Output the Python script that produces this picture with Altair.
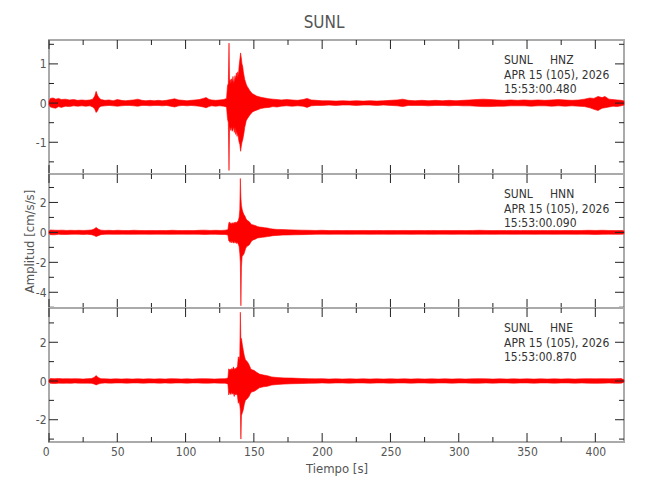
import altair as alt
import pandas as pd

FONT = "DejaVu Sans Condensed, Liberation Sans Narrow, DejaVu Sans, sans-serif"
RED = "#ff0000"
FRAME = "#aaaaaa"
TICK = "#222222"
LABEL = "#555555"

STATION = "SUNL"
CHANNELS = ["HNZ", "HNN", "HNE"]
DATE_LINE = "APR 15 (105), 2026"
START_TIMES = ["15:53:00.480", "15:53:00.090", "15:53:00.870"]
Y_TITLE = "Amplitud [cm/s/s]"
X_TITLE = "Tiempo [s]"

TIME_DOMAIN = [0, 421]
X_MAJOR = [0, 50, 100, 150, 200, 250, 300, 350, 400]
X_MINOR = [25, 75, 125, 175, 225, 275, 325, 375]

Y_DOMAINS = [[-1.81, 1.61], [-5.05, 3.9], [-3.15, 3.77]]
Y_MAJOR = [[-1, 0, 1], [-4, -2, 0, 2], [-2, 0, 2]]
Y_MINOR = [[-1.5, -0.5, 0.5, 1.5], [-5, -3, -1, 1, 3], [-3, -1, 1, 3]]

# envelope of each trace: (time s, upper, lower)
HNZ = [
    (0, 0.05, -0.05), (1, 0.12, -0.10), (3, 0.13, -0.12), (5, 0.10, -0.13), (7, 0.12, -0.09),
    (9, 0.09, -0.11), (12, 0.10, -0.08), (15, 0.08, -0.09), (18, 0.09, -0.07), (21, 0.07, -0.08),
    (24, 0.08, -0.07), (27, 0.07, -0.08), (30, 0.08, -0.07), (32, 0.10, -0.10), (33.5, 0.18, -0.15),
    (34.5, 0.30, -0.24), (35.5, 0.20, -0.20), (36.5, 0.14, -0.12), (38, 0.09, -0.08), (41, 0.07, -0.07),
    (44, 0.08, -0.06), (47, 0.06, -0.07), (50, 0.09, -0.08), (53, 0.07, -0.07), (56, 0.06, -0.06),
    (59, 0.07, -0.06), (62, 0.08, -0.07), (65, 0.10, -0.08), (68, 0.07, -0.06), (71, 0.06, -0.06),
    (74, 0.07, -0.07), (77, 0.06, -0.06), (80, 0.07, -0.06), (83, 0.06, -0.07), (86, 0.07, -0.06),
    (89, 0.09, -0.08), (92, 0.11, -0.10), (95, 0.08, -0.07), (98, 0.07, -0.06), (101, 0.06, -0.07),
    (104, 0.07, -0.06), (107, 0.08, -0.07), (110, 0.09, -0.08), (113, 0.12, -0.10), (115, 0.14, -0.12),
    (117, 0.10, -0.09), (119, 0.08, -0.07), (122, 0.07, -0.08), (125, 0.08, -0.07), (128, 0.09, -0.08),
    (130, 0.12, -0.10), (130.7, 0.45, -0.40), (131.3, 0.50, -0.50), (131.8, 1.53, -1.72), (132.2, 0.55, -0.60),
    (132.7, 0.60, -0.65), (133.2, 0.50, -0.70), (133.7, 0.62, -0.60), (134.2, 0.55, -0.72), (134.7, 0.68, -0.68),
    (135.2, 0.50, -0.60), (135.7, 0.58, -0.75), (136.2, 0.70, -0.62), (136.7, 0.60, -0.80), (137.2, 0.77, -0.70),
    (137.7, 0.65, -0.85), (138.2, 0.80, -0.75), (138.7, 0.70, -0.90), (139.2, 0.95, -1.00), (139.7, 1.10, -1.05),
    (140.3, 1.28, -1.23), (140.8, 1.15, -1.10), (141.3, 1.00, -1.00), (141.8, 0.94, -0.94), (142.3, 0.80, -0.85),
    (142.8, 0.70, -0.75), (143.3, 0.60, -0.62), (143.8, 0.55, -0.55), (144.4, 0.48, -0.45), (145.2, 0.42, -0.40),
    (146.0, 0.38, -0.36), (146.8, 0.33, -0.32), (147.8, 0.28, -0.27), (149, 0.24, -0.23), (150.5, 0.21, -0.20),
    (152, 0.18, -0.18), (155, 0.15, -0.14), (158, 0.13, -0.12), (161, 0.11, -0.11), (164, 0.10, -0.09),
    (167, 0.09, -0.10), (170, 0.08, -0.08), (174, 0.09, -0.07), (178, 0.08, -0.08), (182, 0.07, -0.07),
    (186, 0.09, -0.08), (189, 0.12, -0.11), (192, 0.08, -0.07), (196, 0.07, -0.06), (200, 0.06, -0.06),
    (205, 0.06, -0.05), (210, 0.05, -0.06), (215, 0.06, -0.05), (220, 0.05, -0.05), (225, 0.06, -0.06),
    (230, 0.05, -0.05), (235, 0.06, -0.05), (240, 0.05, -0.06), (245, 0.06, -0.05), (250, 0.07, -0.06),
    (255, 0.08, -0.07), (259, 0.10, -0.09), (263, 0.07, -0.06), (268, 0.06, -0.06), (273, 0.07, -0.06),
    (278, 0.06, -0.07), (283, 0.07, -0.06), (288, 0.06, -0.06), (293, 0.07, -0.07), (298, 0.06, -0.06),
    (303, 0.07, -0.07), (308, 0.08, -0.07), (313, 0.09, -0.08), (318, 0.10, -0.09), (323, 0.09, -0.09),
    (328, 0.08, -0.08), (333, 0.07, -0.08), (338, 0.08, -0.07), (343, 0.07, -0.07), (348, 0.08, -0.07),
    (353, 0.07, -0.08), (358, 0.08, -0.07), (363, 0.07, -0.07), (368, 0.08, -0.08), (373, 0.09, -0.07),
    (378, 0.08, -0.08), (383, 0.07, -0.07), (388, 0.08, -0.08), (392, 0.10, -0.09), (396, 0.13, -0.12),
    (399, 0.12, -0.16), (402, 0.17, -0.19), (405, 0.14, -0.13), (407, 0.17, -0.12), (410, 0.10, -0.10),
    (413, 0.09, -0.08), (416, 0.08, -0.09), (419, 0.07, -0.07), (421, 0.05, -0.05),
]

HNN = [
    (0, 0.08, -0.08), (1, 0.16, -0.15), (4, 0.15, -0.16), (7, 0.14, -0.13), (10, 0.15, -0.14),
    (13, 0.13, -0.14), (16, 0.14, -0.13), (19, 0.13, -0.12), (22, 0.14, -0.13), (25, 0.13, -0.14),
    (28, 0.14, -0.13), (31, 0.16, -0.15), (33, 0.22, -0.20), (34.5, 0.33, -0.28), (36, 0.22, -0.22),
    (38, 0.15, -0.15), (41, 0.13, -0.13), (44, 0.14, -0.12), (47, 0.12, -0.13), (50, 0.14, -0.13),
    (54, 0.13, -0.12), (58, 0.12, -0.13), (62, 0.14, -0.13), (66, 0.13, -0.12), (70, 0.12, -0.12),
    (74, 0.13, -0.13), (78, 0.12, -0.12), (82, 0.13, -0.12), (86, 0.12, -0.13), (90, 0.14, -0.13),
    (94, 0.13, -0.12), (98, 0.12, -0.12), (102, 0.13, -0.13), (106, 0.12, -0.12), (110, 0.14, -0.13),
    (114, 0.15, -0.14), (118, 0.13, -0.13), (122, 0.14, -0.13), (126, 0.13, -0.14), (129, 0.15, -0.14),
    (131, 0.18, -0.18), (131.6, 0.60, -0.55), (132.1, 0.70, -0.60), (132.6, 0.55, -0.68), (133.2, 0.65, -0.55),
    (133.8, 0.55, -0.70), (134.4, 0.65, -0.60), (135.0, 0.58, -0.72), (135.6, 0.68, -0.60), (136.2, 0.60, -0.72),
    (136.8, 0.70, -0.62), (137.4, 0.62, -0.75), (138.0, 0.72, -0.68), (138.6, 0.80, -0.80), (139.2, 1.00, -0.95),
    (139.7, 1.50, -1.40), (140.1, 3.60, -2.00), (140.5, 2.30, -4.90), (140.9, 1.80, -2.30), (141.4, 1.55, -1.60),
    (142.0, 1.35, -1.55), (142.7, 1.20, -1.45), (143.4, 1.10, -1.25), (144.1, 0.95, -1.05), (144.8, 0.82, -0.95),
    (145.6, 0.78, -0.90), (146.5, 0.72, -0.85), (147.4, 0.62, -0.72), (148.3, 0.52, -0.58), (149.5, 0.50, -0.50),
    (151, 0.46, -0.45), (152.5, 0.40, -0.38), (154, 0.36, -0.35), (156, 0.34, -0.33), (158, 0.31, -0.31),
    (160, 0.29, -0.28), (162, 0.25, -0.25), (164, 0.22, -0.22), (167, 0.20, -0.20), (171, 0.19, -0.18),
    (175, 0.17, -0.17), (180, 0.16, -0.16), (185, 0.15, -0.15), (190, 0.14, -0.14), (195, 0.13, -0.13),
    (200, 0.14, -0.12), (205, 0.12, -0.13), (210, 0.13, -0.12), (215, 0.12, -0.12), (220, 0.13, -0.13),
    (225, 0.12, -0.12), (230, 0.13, -0.12), (235, 0.12, -0.13), (240, 0.13, -0.12), (245, 0.12, -0.12),
    (250, 0.13, -0.13), (255, 0.12, -0.12), (260, 0.13, -0.12), (265, 0.12, -0.13), (270, 0.13, -0.12),
    (275, 0.12, -0.12), (280, 0.13, -0.13), (285, 0.12, -0.12), (290, 0.13, -0.12), (295, 0.12, -0.13),
    (300, 0.13, -0.12), (305, 0.12, -0.12), (310, 0.13, -0.13), (315, 0.14, -0.13), (320, 0.13, -0.12),
    (325, 0.12, -0.13), (330, 0.13, -0.12), (335, 0.12, -0.12), (340, 0.13, -0.13), (345, 0.12, -0.12),
    (350, 0.13, -0.12), (355, 0.12, -0.13), (360, 0.13, -0.12), (365, 0.12, -0.12), (370, 0.13, -0.13),
    (375, 0.12, -0.12), (380, 0.13, -0.12), (385, 0.12, -0.13), (390, 0.13, -0.12), (395, 0.14, -0.13),
    (400, 0.13, -0.14), (405, 0.14, -0.13), (410, 0.13, -0.12), (415, 0.12, -0.13), (420, 0.13, -0.12),
    (421, 0.08, -0.08),
]

HNE = [
    (0, 0.06, -0.06), (1, 0.13, -0.12), (4, 0.12, -0.13), (7, 0.13, -0.11), (10, 0.11, -0.12),
    (13, 0.12, -0.11), (16, 0.11, -0.12), (19, 0.12, -0.10), (22, 0.11, -0.11), (25, 0.10, -0.11),
    (28, 0.12, -0.11), (31, 0.13, -0.12), (33, 0.18, -0.15), (34.5, 0.28, -0.20), (36, 0.18, -0.16),
    (38, 0.12, -0.12), (41, 0.11, -0.10), (45, 0.10, -0.11), (49, 0.11, -0.10), (53, 0.10, -0.10),
    (57, 0.11, -0.11), (61, 0.10, -0.10), (65, 0.11, -0.10), (69, 0.10, -0.11), (73, 0.11, -0.10),
    (77, 0.10, -0.10), (81, 0.11, -0.11), (85, 0.10, -0.10), (89, 0.12, -0.11), (93, 0.11, -0.10),
    (97, 0.10, -0.10), (101, 0.11, -0.11), (105, 0.10, -0.10), (109, 0.11, -0.10), (113, 0.12, -0.11),
    (117, 0.11, -0.11), (121, 0.10, -0.10), (125, 0.11, -0.11), (129, 0.12, -0.11), (131, 0.15, -0.15),
    (131.6, 0.63, -0.72), (132.1, 0.55, -0.60), (132.6, 0.62, -0.65), (133.2, 0.55, -0.70), (133.8, 0.65, -0.58),
    (134.4, 0.58, -0.68), (135.0, 0.73, -0.62), (135.6, 0.60, -0.80), (136.2, 0.66, -0.64), (136.8, 0.62, -0.72),
    (137.4, 0.70, -0.66), (138.0, 0.75, -0.78), (138.6, 1.25, -1.15), (139.2, 1.10, -1.05), (139.7, 1.30, -1.25),
    (140.1, 3.55, -1.50), (140.5, 2.00, -3.00), (140.9, 2.20, -1.80), (141.5, 1.90, -1.65), (142.2, 1.60, -1.50),
    (143.0, 1.30, -1.20), (143.8, 1.10, -1.00), (144.6, 1.05, -0.95), (145.6, 0.95, -0.88), (146.6, 0.82, -0.78),
    (147.6, 0.65, -0.62), (148.6, 0.58, -0.56), (150, 0.55, -0.54), (152, 0.45, -0.45), (154, 0.36, -0.35),
    (157, 0.31, -0.30), (160, 0.27, -0.27), (163, 0.21, -0.21), (167, 0.18, -0.18), (172, 0.16, -0.16),
    (178, 0.15, -0.14), (185, 0.13, -0.13), (190, 0.12, -0.12), (195, 0.11, -0.11), (200, 0.12, -0.10),
    (205, 0.10, -0.11), (210, 0.11, -0.10), (215, 0.10, -0.10), (220, 0.11, -0.11), (225, 0.10, -0.10),
    (230, 0.11, -0.10), (235, 0.10, -0.11), (240, 0.11, -0.10), (245, 0.10, -0.10), (250, 0.11, -0.11),
    (255, 0.10, -0.10), (260, 0.11, -0.10), (265, 0.10, -0.11), (270, 0.11, -0.10), (275, 0.10, -0.10),
    (280, 0.11, -0.11), (285, 0.10, -0.10), (290, 0.11, -0.10), (295, 0.10, -0.11), (300, 0.11, -0.10),
    (305, 0.10, -0.10), (310, 0.11, -0.11), (315, 0.12, -0.11), (320, 0.11, -0.10), (325, 0.10, -0.11),
    (330, 0.11, -0.10), (335, 0.10, -0.10), (340, 0.11, -0.11), (345, 0.10, -0.10), (350, 0.11, -0.10),
    (355, 0.10, -0.11), (360, 0.11, -0.10), (365, 0.10, -0.10), (370, 0.11, -0.11), (375, 0.10, -0.10),
    (380, 0.11, -0.10), (385, 0.10, -0.11), (390, 0.11, -0.10), (395, 0.12, -0.11), (400, 0.11, -0.12),
    (405, 0.12, -0.11), (410, 0.11, -0.10), (415, 0.12, -0.12), (419, 0.13, -0.11), (421, 0.06, -0.06),
]

TRACES = [HNZ, HNN, HNE]

W, H = 575, 134
MAJ, MIN = 9, 5


def panel(i):
    df = pd.DataFrame(TRACES[i], columns=["t", "hi", "lo"])
    xs = alt.Scale(domain=TIME_DOMAIN, nice=False, zero=False)
    ys = alt.Scale(domain=Y_DOMAINS[i], nice=False, zero=False)

    if i == 2:
        xaxis = alt.Axis(values=X_MAJOR, ticks=False, domain=False, grid=False, labelPadding=4,
                         labelAlign=alt.expr("datum.value == 0 ? 'right' : 'center'"),
                         labelFont=FONT, labelFontSize=12, labelColor=LABEL,
                         title=X_TITLE, titleFont=FONT, titleFontSize=13, titleColor=LABEL,
                         titleFontWeight="normal", titlePadding=5)
    else:
        xaxis = None

    ykw = dict(values=Y_MAJOR[i], ticks=False, domain=False, grid=False, labelPadding=3,
               labelFont=FONT, labelFontSize=12, labelColor=LABEL,
               labelExpr="replace(datum.label, '\u2212', '-')")
    if i == 1:
        ykw.update(title=Y_TITLE, titleFont=FONT, titleFontSize=13, titleColor=LABEL,
                   titleFontWeight="normal", titleAngle=270, titleX=-20, titleY=H / 2,
                   titleAlign="center", titleBaseline="middle")
    else:
        ykw.update(title="")
    yaxis = alt.Axis(**ykw)

    X = lambda f: alt.X(f, scale=xs, axis=xaxis)
    Y = lambda f: alt.Y(f, scale=ys, axis=yaxis)

    wave = alt.Chart(df).mark_area(color=RED, stroke=RED, strokeWidth=0.6).encode(
        x=X("t:Q"), y=Y("hi:Q"), y2="lo:Q",
    )

    layers = [wave]
    for vals, ln in ((Y_MAJOR[i], MAJ), (Y_MINOR[i], MIN)):
        base = alt.Chart(pd.DataFrame({"v": vals})).mark_rule(color=TICK, strokeWidth=1)
        layers.append(base.encode(y=Y("v:Q"), x=alt.value(0), x2=alt.value(ln)))
        layers.append(base.encode(y=Y("v:Q"), x=alt.value(W - ln), x2=alt.value(W)))
    for vals, ln in ((X_MAJOR, MAJ), (X_MINOR, MIN)):
        base = alt.Chart(pd.DataFrame({"v": vals})).mark_rule(color=TICK, strokeWidth=1)
        layers.append(base.encode(x=X("v:Q"), y=alt.value(0), y2=alt.value(ln)))
        layers.append(base.encode(x=X("v:Q"), y=alt.value(H - ln), y2=alt.value(H)))

    txt = "\n".join([STATION + "\u00a0" * 5 + CHANNELS[i], DATE_LINE, START_TIMES[i]])
    label = alt.Chart(pd.DataFrame({"txt": [txt]})).mark_text(
        align="left", baseline="top", lineBreak="\n", lineHeight=14.5,
        font=FONT, fontSize=12, color="#333333",
    ).encode(text="txt:N", x=alt.value(455), y=alt.value(15))
    layers.append(label)
    return alt.layer(*layers).properties(width=W, height=H)


chart = alt.vconcat(panel(0), panel(1), panel(2), spacing=0, bounds="flush").properties(
    title=alt.TitleParams(STATION, font=FONT, fontSize=17, color=LABEL, fontWeight="normal",
                          anchor="middle", offset=7),
    padding={"left": 13, "top": 5, "right": 5, "bottom": 5},
).configure_view(stroke=FRAME, strokeWidth=2)

chart.save("out.html", embed_options={"renderer": "svg", "actions": False})
